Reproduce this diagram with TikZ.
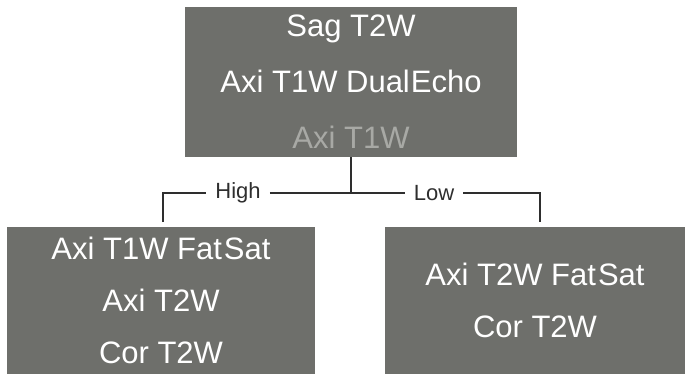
\documentclass[tikz,border=0pt]{standalone}
\usepackage{fontspec}
\setmainfont{Liberation Sans}
\definecolor{boxgray}{HTML}{6E6F6B}
\definecolor{dimtext}{HTML}{A8A9A5}
\definecolor{linegray}{HTML}{2E2E2E}
\begin{document}
\begin{tikzpicture}[x=1bp,y=-1bp,
  box/.style={fill=boxgray, draw=none, text=white, align=center, inner sep=0pt,
    font=\fontsize{31bp}{52bp}\selectfont},
  lab/.style={text=linegray, inner xsep=9bp, inner ysep=0pt, font=\fontsize{22bp}{26bp}\selectfont},
  conn/.style={draw=linegray, line width=1.8bp}]
\useasboundingbox (0,0) rectangle (686,376);
\node[box, minimum width=332bp, minimum height=150bp,
  font=\fontsize{31bp}{56bp}\selectfont] (top) at (351,82)
  {Sag T2W\\Axi T1W Dual\kern1bp Echo\\\textcolor{dimtext}{Axi T1W}};
\node[box, minimum width=308bp, minimum height=147bp] (L) at (161,300.5)
  {Axi T1W Fat\kern2bp Sat\\Axi T2W\\Cor T2W};
\node[box, minimum width=300bp, minimum height=147bp] (R) at (535,300.5)
  {Axi T2W Fat\kern2bp Sat\\Cor T2W};
\coordinate (j) at (351,193);
\node[lab] (hi) at (238,193) {High};
\node[lab] (lo) at (434,193) {Low};
\coordinate (lc) at (163,193);
\coordinate (rc) at (540,193);
\coordinate (le) at (163,222);
\coordinate (re) at (540,222);
\draw[conn] (top.south) -- (j);
\draw[conn] (le) -- (lc) -- (hi.west);
\draw[conn] (hi.east) -- (lo.west);
\draw[conn] (lo.east) -- (rc) -- (re);
\end{tikzpicture}
\end{document}
